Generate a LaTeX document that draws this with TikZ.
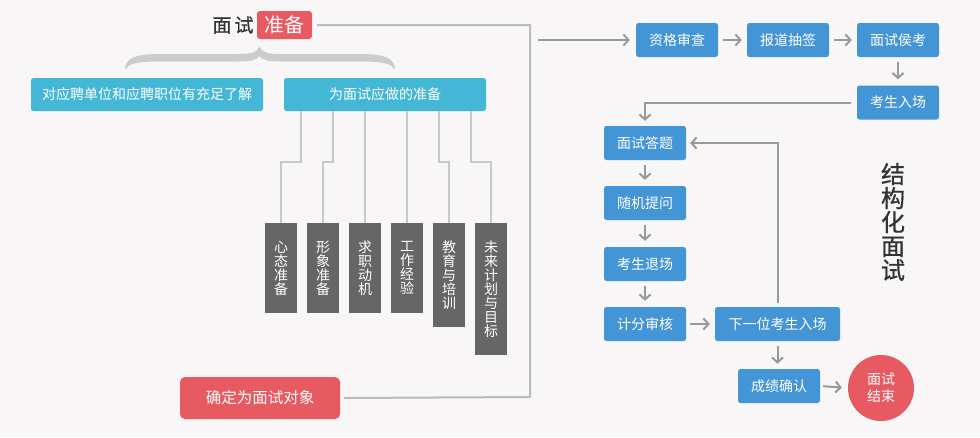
\documentclass[tikz,border=0pt]{standalone}
\usepackage{fontspec}
\setmainfont{Noto Sans CJK SC}
\newfontfamily\medfont[FakeBold=0.7]{Noto Sans CJK SC}
\usetikzlibrary{arrows.meta,calc}
\definecolor{bg}{HTML}{F8F6F7}
\definecolor{fblue}{HTML}{4495D5}
\definecolor{fcyan}{HTML}{44B6D6}
\definecolor{fred}{HTML}{E85A62}
\definecolor{fdark}{HTML}{666666}
\definecolor{arrgray}{HTML}{999999}
\definecolor{linegray}{HTML}{BBBBBB}
\definecolor{conngray}{HTML}{C8C8C8}
\definecolor{bracegray}{HTML}{CCCCCC}
\definecolor{titlegray}{HTML}{333333}
\tikzset{
  flowbox/.style={fill=fblue, text=white, rounded corners=2.5pt, minimum width=82pt, minimum height=34pt, inner sep=0pt, font=\fontsize{14}{16}\selectfont},
  cyanbox/.style={fill=fcyan, text=white, rounded corners=2.5pt, minimum height=33pt, inner sep=0pt, font=\fontsize{14}{16}\selectfont},
  vbox/.style={fill=fdark, text=white, minimum width=32pt, inner sep=0pt, anchor=north, align=center, font=\fontsize{14}{14}\selectfont},
  redbox/.style={fill=fred, text=white, inner sep=0pt},
  arr/.style={draw=arrgray, line width=2pt, -{Straight Barb[length=5pt,width=11pt]}},
  conn/.style={draw=conngray, line width=1.8pt},
  mainline/.style={draw=linegray, line width=2pt},
}
\begin{document}
\begin{tikzpicture}[x=1pt,y=-1pt]
\fill[bg] (0,0) rectangle (980,437);
\useasboundingbox (0,0) rectangle (980,437);

% title
\node[text=titlegray, font=\medfont\fontsize{19}{20}\selectfont, inner sep=0pt] (t1) at (233,25) {面\hspace{3pt}试};
\node[redbox, rounded corners=3pt, minimum width=55pt, minimum height=28pt, font=\fontsize{20}{20}\selectfont] (t2) at (284.5,25) {准备};

% brace
\fill[bracegray]
  (125,70) .. controls (125,58) and (135,54) .. (160,54) -- (240,54)
  .. controls (252,54) and (257,52) .. (259.5,46.5)
  .. controls (262,52) and (267,54) .. (279,54) -- (360,54)
  .. controls (385,54) and (395,58) .. (395,70)
  .. controls (392,64) and (385,61.5) .. (360,61.5) -- (280,61.5)
  .. controls (268,61.5) and (262,60) .. (259.5,56)
  .. controls (257,60) and (251,61.5) .. (239,61.5) -- (160,61.5)
  .. controls (135,61.5) and (128,64) .. (125,70) -- cycle;

% cyan boxes
\node[cyanbox, minimum width=232pt] (b1) at (147,94.5) {对应聘单位和应聘职位有充足了解};
\node[cyanbox, minimum width=202pt] (b2) at (385,94.5) {为面试应做的准备};

% vertical boxes
\node[vbox, minimum height=90pt] (v1) at (281,223) {心\\态\\准\\备};
\node[vbox, minimum height=90pt] (v2) at (323,223) {形\\象\\准\\备};
\node[vbox, minimum height=90pt] (v3) at (365,223) {求\\职\\动\\机};
\node[vbox, minimum height=90pt] (v4) at (407,223) {工\\作\\经\\验};
\node[vbox, minimum height=104pt] (v5) at (449,223) {教\\育\\与\\培\\训};
\node[vbox, minimum height=132pt] (v6) at (491,223) {未\\来\\计\\划\\与\\目\\标};

\draw[conn] (b2.south -| 301,0) -- (301,162) -| (v1.north);
\draw[conn] (b2.south -| 333,0) -- (333,162) -| (v2.north);
\draw[conn] (b2.south -| 365,0) -- (v3.north);
\draw[conn] (b2.south -| 407,0) -- (v4.north);
\draw[conn] (b2.south -| 439,0) -- (439,162) -| (v5.north);
\draw[conn] (b2.south -| 471,0) -- (471,162) -| (v6.north);

% bottom red box
\node[redbox, rounded corners=5pt, minimum width=160pt, minimum height=42pt, font=\fontsize{15.5}{18}\selectfont] (obj) at (260,398) {确定为面试对象};

\draw[mainline] ([xshift=5pt]t2.east) -| (530,397) -- ([xshift=4pt]obj.east);

% right flow
\node[flowbox] (zg) at (677,40) {资格审查};
\node[flowbox] (bd) at (788,40) {报道抽签};
\node[flowbox] (hk) at (898,40) {面试侯考};
\node[flowbox] (rc) at (898,102.5) {考生入场};
\node[flowbox] (dt) at (645,143) {面试答题};
\node[flowbox] (tw) at (645,203) {随机提问};
\node[flowbox] (tc) at (645,264) {考生退场};
\node[flowbox] (jf) at (645,324) {计分审核};
\node[flowbox, minimum width=125pt] (xy) at (777.5,324) {下一位考生入场};
\node[flowbox] (cj) at (779,386) {成绩确认};
\node[circle, fill=fred, text=white, minimum size=66pt, inner sep=0pt, align=center, font=\fontsize{14}{17}\selectfont] (end) at (881,388) {面试\\结束};

\node[text=titlegray, align=center, inner sep=0pt, font=\medfont\fontsize{24}{24}\selectfont] (ttl) at (893,222) {结\\构\\化\\面\\试};

\coordinate (in) at (538,40);
\draw[arr, shorten >=6pt] (in) -- (zg.west);
\draw[arr, shorten <=5pt, shorten >=5pt] (zg.east) -- (bd.west);
\draw[arr, shorten <=5pt, shorten >=5pt] (bd.east) -- (hk.west);
\draw[arr, shorten <=5pt, shorten >=6pt] (hk.south) -- (rc.north);
\draw[arr, shorten <=6pt, shorten >=5pt] (rc.west) -| (dt.north);
\draw[arr, shorten <=5pt, shorten >=6pt] (dt.south) -- (tw.north);
\draw[arr, shorten <=5pt, shorten >=6pt] (tw.south) -- (tc.north);
\draw[arr, shorten <=5pt, shorten >=6pt] (tc.south) -- (jf.north);
\draw[arr, shorten <=4pt, shorten >=5pt] (jf.east) -- (xy.west);
\draw[arr, shorten <=4pt, shorten >=4pt] (xy.north) |- (dt.east);
\draw[arr, shorten <=5pt, shorten >=5pt] (xy.south) -- (xy.south |- cj.north);
\draw[arr, shorten <=3pt, shorten >=6pt] (cj.east) -- (end.west);
\end{tikzpicture}
\end{document}
